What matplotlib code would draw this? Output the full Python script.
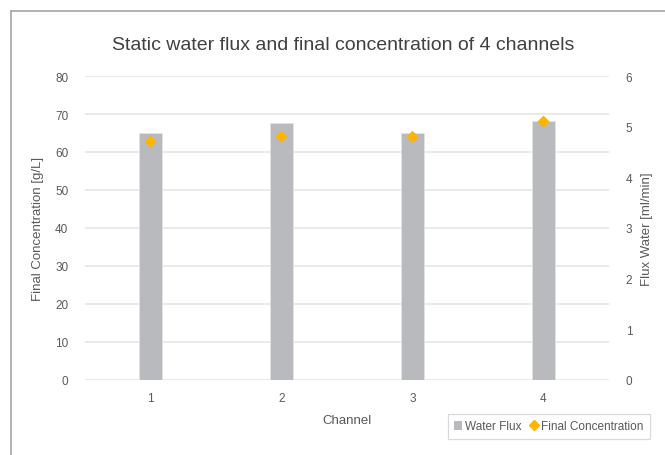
import matplotlib
matplotlib.use("Agg")
import matplotlib.pyplot as plt
from matplotlib.patches import Rectangle
from matplotlib.lines import Line2D

channels = ["1", "2", "3", "4"]
bar_values = [65.0, 67.7, 65.0, 68.1]     # left axis, g/L
point_values = [4.7, 4.8, 4.8, 5.1]       # right axis, ml/min
left_ticks = [0, 10, 20, 30, 40, 50, 60, 70, 80]
right_ticks = [0, 1, 2, 3, 4, 5, 6]

BAR_COLOR = "#b9babd"
POINT_COLOR = "#ffb400"
TEXT_COLOR = "#595959"
GRID_COLOR = "#e6e6e6"

plt.rcParams["font.family"] = ["Liberation Sans", "DejaVu Sans"]

fig = plt.figure(figsize=(6.65, 4.56), dpi=100)
W, H = 665, 456

# outer chart frame (only top and left edges are visible)
fig.add_artist(Line2D([10.5 / W, 1.0], [1 - 12 / H, 1 - 12 / H],
                      color="#a6a6a6", lw=1.2, transform=fig.transFigure))
fig.add_artist(Line2D([10.5 / W, 10.5 / W], [0.0, 1 - 12 / H],
                      color="#a6a6a6", lw=1.2, transform=fig.transFigure))

ax = fig.add_axes([85 / W, 1 - 381 / H, 524 / W, 304 / H])
ax2 = ax.twinx()

x = list(range(len(channels)))
ax.bar(x, bar_values, width=0.17, color=BAR_COLOR, edgecolor="#e4e4e6",
       linewidth=0.6, zorder=2)
ax2.scatter(x, point_values, marker="D", s=38, color=POINT_COLOR,
            edgecolors="none", zorder=3)

ax.set_xlim(-0.5, len(channels) - 0.5)
ax.set_ylim(0, 80)
ax2.set_ylim(0, 6)
ax.set_yticks(left_ticks)
ax2.set_yticks(right_ticks)
ax.set_xticks(x)
ax.set_xticklabels(channels)

ax.yaxis.grid(True, color=GRID_COLOR, lw=1.2, zorder=0)
ax.set_axisbelow(True)
for a in (ax, ax2):
    for s in a.spines.values():
        s.set_visible(False)
    a.tick_params(length=0, colors=TEXT_COLOR, labelsize=8.5)
ax.tick_params(axis="y", pad=12)
ax2.tick_params(axis="y", pad=12)
ax.tick_params(axis="x", pad=9)

ax.set_ylabel("Final Concentration [g/L]", color=TEXT_COLOR, fontsize=9.5,
              labelpad=8)
ax2.set_ylabel("Flux Water [ml/min]", color=TEXT_COLOR, fontsize=9.5,
               labelpad=6)
ax.set_xlabel("Channel", color=TEXT_COLOR, fontsize=9.5, labelpad=7)

fig.text(343 / W, 1 - 46 / H, "Static water flux and final concentration of 4 channels",
         ha="center", va="center", fontsize=14, color="#404040")

handles = [
    Rectangle((0, 0), 1, 1, facecolor=BAR_COLOR, edgecolor="none"),
    Line2D([], [], marker="D", ls="none", color=POINT_COLOR, markersize=5),
]
leg = fig.legend(handles, ["Water Flux", "Final Concentration"], ncol=2,
                 loc="center", bbox_to_anchor=(549 / W, 1 - 427.5 / H),
                 fontsize=8.5, frameon=True, fancybox=False, handlelength=0.7,
                 handletextpad=0.25, columnspacing=0.7, borderpad=0.55)
leg.get_frame().set_edgecolor("#d0d0d0")
leg.get_frame().set_linewidth(0.9)
for t in leg.get_texts():
    t.set_color(TEXT_COLOR)

fig.savefig("out.png", dpi=100)
